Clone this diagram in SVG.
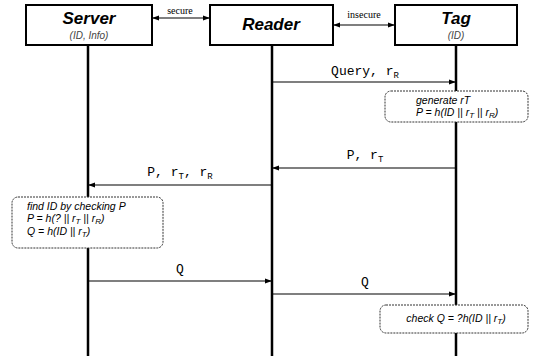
<svg xmlns="http://www.w3.org/2000/svg" width="537" height="356" viewBox="0 0 537 356">
<defs>
<marker id="ah" viewBox="0 0 8 8" refX="7" refY="4" markerWidth="6" markerHeight="6" orient="auto-start-reverse"><path d="M0,1 L8,4 L0,7 Z" fill="#000"/></marker>
<style>
.box{fill:#fff;stroke:#000;stroke-width:2}
.life{stroke:#000;stroke-width:2.5}
.title{font-family:"Liberation Sans",Arial,sans-serif;font-weight:bold;font-style:italic;font-size:17px;text-anchor:middle}
.sub{font-family:"Liberation Sans",Arial,sans-serif;font-style:italic;font-size:10px;fill:#444;text-anchor:middle}
.lk{font-family:"Liberation Serif","Times New Roman",serif;font-size:10px;text-anchor:middle}
.msg{font-family:"Liberation Mono","Courier New",monospace;font-size:13px;text-anchor:middle}
.msub{font-size:9px}
.arr{stroke:#000;stroke-width:1.2;fill:none}
.note{fill:#fff;stroke:#333;stroke-width:1;stroke-dasharray:2 1}
.nt{font-family:"Liberation Sans",Arial,sans-serif;font-style:italic;font-size:10.5px}
.ns{font-size:8px}
</style>
</defs>
<g id="lifelines">
<line class="life" x1="88" y1="45" x2="88" y2="356"/>
<line class="life" x1="272" y1="45" x2="272" y2="356"/>
<line class="life" x1="456" y1="45" x2="456" y2="356"/>
</g>
<g id="server"><rect class="box" x="26" y="5" width="126" height="40"/><text class="title" x="89" y="24">Server</text><text class="sub" x="89" y="39">(ID, Info)</text></g>
<g id="reader"><rect class="box" x="210" y="5" width="123" height="40"/><text class="title" x="271" y="30">Reader</text></g>
<g id="tag"><rect class="box" x="395" y="5" width="122" height="40"/><text class="title" x="456" y="24">Tag</text><text class="sub" x="456" y="39">(ID)</text></g>
<g id="connectors">
<line class="arr" x1="153" y1="18" x2="209" y2="18" marker-start="url(#ah)" marker-end="url(#ah)"/>
<text class="lk" x="180" y="14">secure</text>
<line class="arr" x1="334" y1="25" x2="394" y2="25" marker-start="url(#ah)" marker-end="url(#ah)"/>
<text class="lk" x="364" y="18">insecure</text>
<line class="arr" x1="272" y1="82" x2="455" y2="82" marker-end="url(#ah)"/>
<text class="msg" x="365" y="75">Query, r<tspan class="msub" dy="3">R</tspan></text>
<line class="arr" x1="456" y1="168" x2="273" y2="168" marker-end="url(#ah)"/>
<text class="msg" x="365" y="159">P, r<tspan class="msub" dy="3">T</tspan></text>
<line class="arr" x1="272" y1="185" x2="89" y2="185" marker-end="url(#ah)"/>
<text class="msg" x="180" y="176">P, r<tspan class="msub" dy="3">T</tspan><tspan dy="-3">, r</tspan><tspan class="msub" dy="3">R</tspan></text>
<line class="arr" x1="88" y1="281" x2="271" y2="281" marker-end="url(#ah)"/>
<text class="msg" x="180" y="273">Q</text>
<line class="arr" x1="272" y1="294" x2="455" y2="294" marker-end="url(#ah)"/>
<text class="msg" x="365" y="286">Q</text>
</g>
<g id="note-tag"><rect class="note" x="385" y="91" width="143" height="31" rx="6"/>
<text class="nt" x="416" y="104">generate rT</text>
<text class="nt" x="416" y="116">P = h(ID || r<tspan class="ns" dy="2">T</tspan><tspan dy="-2"> || r</tspan><tspan class="ns" dy="2">R</tspan><tspan dy="-2">)</tspan></text></g>
<g id="note-server"><rect class="note" x="12" y="197" width="151" height="51" rx="6"/>
<text class="nt" x="27" y="210">find ID by checking P</text>
<text class="nt" x="27" y="222">P = h(? || r<tspan class="ns" dy="2">T</tspan><tspan dy="-2"> || r</tspan><tspan class="ns" dy="2">R</tspan><tspan dy="-2">)</tspan></text>
<text class="nt" x="27" y="235">Q = h(ID || r<tspan class="ns" dy="2">T</tspan><tspan dy="-2">)</tspan></text></g>
<g id="note-check"><rect class="note" x="380" y="305" width="148" height="28" rx="6"/>
<text class="nt" x="456" y="322" text-anchor="middle">check Q = ?h(ID || r<tspan class="ns" dy="2">T</tspan><tspan dy="-2">)</tspan></text></g>
</svg>
